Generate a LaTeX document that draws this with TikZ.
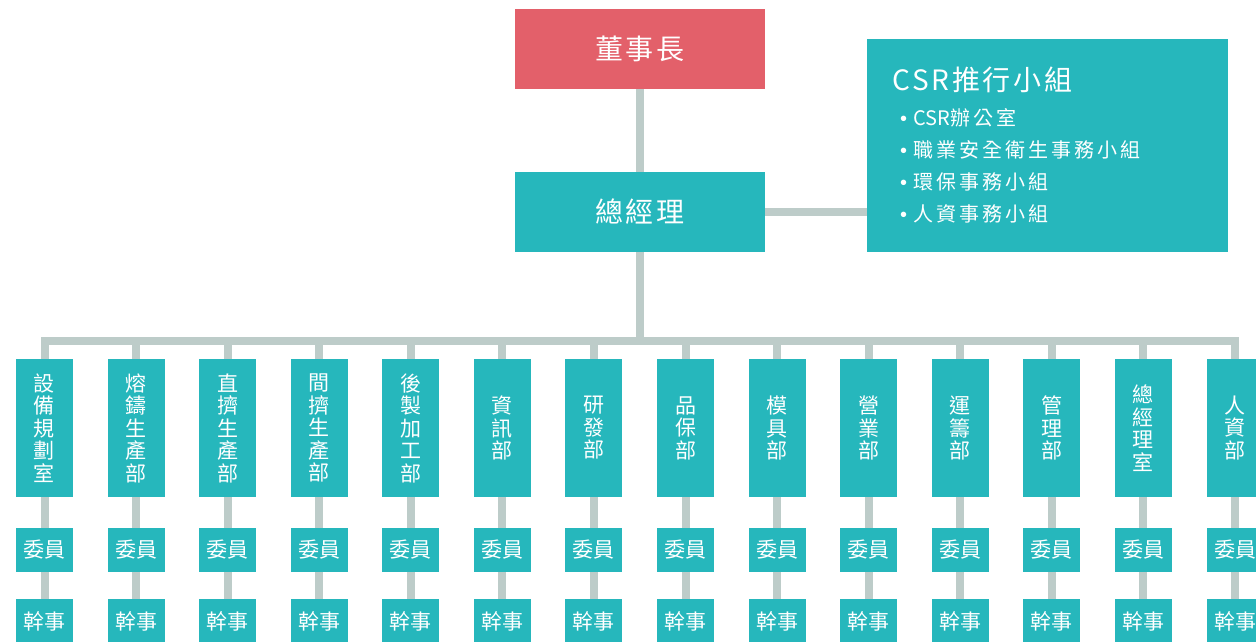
\documentclass[tikz,border=0pt]{standalone}
\usepackage{fontspec}
\newfontfamily\cjk{Noto Sans CJK TC}
\newfontfamily\cjkls{Noto Sans CJK TC}[LetterSpace=10]
\newfontfamily\cjkli{Noto Sans CJK TC}[LetterSpace=15]
\newfontfamily\bulfont{Liberation Sans}
\definecolor{teal1}{HTML}{26B7BC}
\definecolor{red1}{HTML}{E3606A}
\definecolor{conn1}{HTML}{BDCCC9}
\begin{document}
\begin{tikzpicture}[x=1pt,y=-1pt,
  box/.style={fill=teal1, text=white, inner sep=0pt, draw=none},
  topbox/.style={box, minimum width=250pt, minimum height=80pt, font=\cjkls\fontsize{28}{32}\selectfont},
  deptbox/.style={box, minimum width=57pt, minimum height=138pt, align=center, font=\cjk\fontsize{21}{22.5}\selectfont},
  smallbox/.style={box, minimum width=57pt, minimum height=44pt, font=\cjk\fontsize{21}{24}\selectfont},
  conn/.style={draw=conn1, line width=8pt},
  csrtitle/.style={text=white, inner sep=0pt, anchor=west, font=\cjkls\fontsize{28}{32}\selectfont},
  csritem/.style={text=white, inner sep=0pt, anchor=west, font=\cjkli\fontsize{20}{24}\selectfont}]
\useasboundingbox (0,0) rectangle (1256,641);
\clip (0,0) rectangle (1256,641);
\node[topbox, fill=red1] (chair) at (640,49) {董事長};
\node[topbox] (gm) at (640,212) {總經理};
\node[box, minimum width=361pt, minimum height=213pt] (csr) at (1047.5,145.5) {};
\node[csrtitle] (csrt) at (892,80) {CSR推行小組};
\node[csritem] (c1) at (900,118) {{\bulfont•}\hspace{6pt}{\cjk CSR}辦公室};
\node[csritem] (c2) at (900,150) {{\bulfont•}\hspace{6pt}職業安全衛生事務小組};
\node[csritem] (c3) at (900,182) {{\bulfont•}\hspace{6pt}環保事務小組};
\node[csritem] (c4) at (900,214) {{\bulfont•}\hspace{6pt}人資事務小組};
\coordinate (bus) at (640,341);
\foreach \i/\t in {1/{設\\備\\規\\劃\\室},2/{熔\\鑄\\生\\產\\部},3/{直\\擠\\生\\產\\部},4/{間\\擠\\生\\產\\部},5/{後\\製\\加\\工\\部},6/{資\\訊\\部},7/{研\\發\\部},8/{品\\保\\部},9/{模\\具\\部},10/{營\\業\\部},11/{運\\籌\\部},12/{管\\理\\部},13/{總\\經\\理\\室},14/{人\\資\\部}}{
  \pgfmathsetmacro{\cx}{44.5+(\i-1)*91.58}
  \node[deptbox] (d\i) at (\cx,428) {\t};
  \node[smallbox] (w\i) at (\cx,550) {委員};
  \node[smallbox] (g\i) at (\cx,621) {幹事};
  \draw[conn] (d\i) -- (w\i);
  \draw[conn] (w\i) -- (g\i);
}
\draw[conn] (chair) -- (gm);
\draw[conn] (gm.east) -- (gm.east -| csr.west);
\draw[conn] (gm) -- (gm |- bus);
\draw[conn, line join=miter] (d1.north) -- (d1 |- bus) -- (d14 |- bus) -- (d14.north);
\foreach \i in {2,...,13}{
  \draw[conn] (d\i |- bus) -- (d\i.north);
}
\end{tikzpicture}
\end{document}
